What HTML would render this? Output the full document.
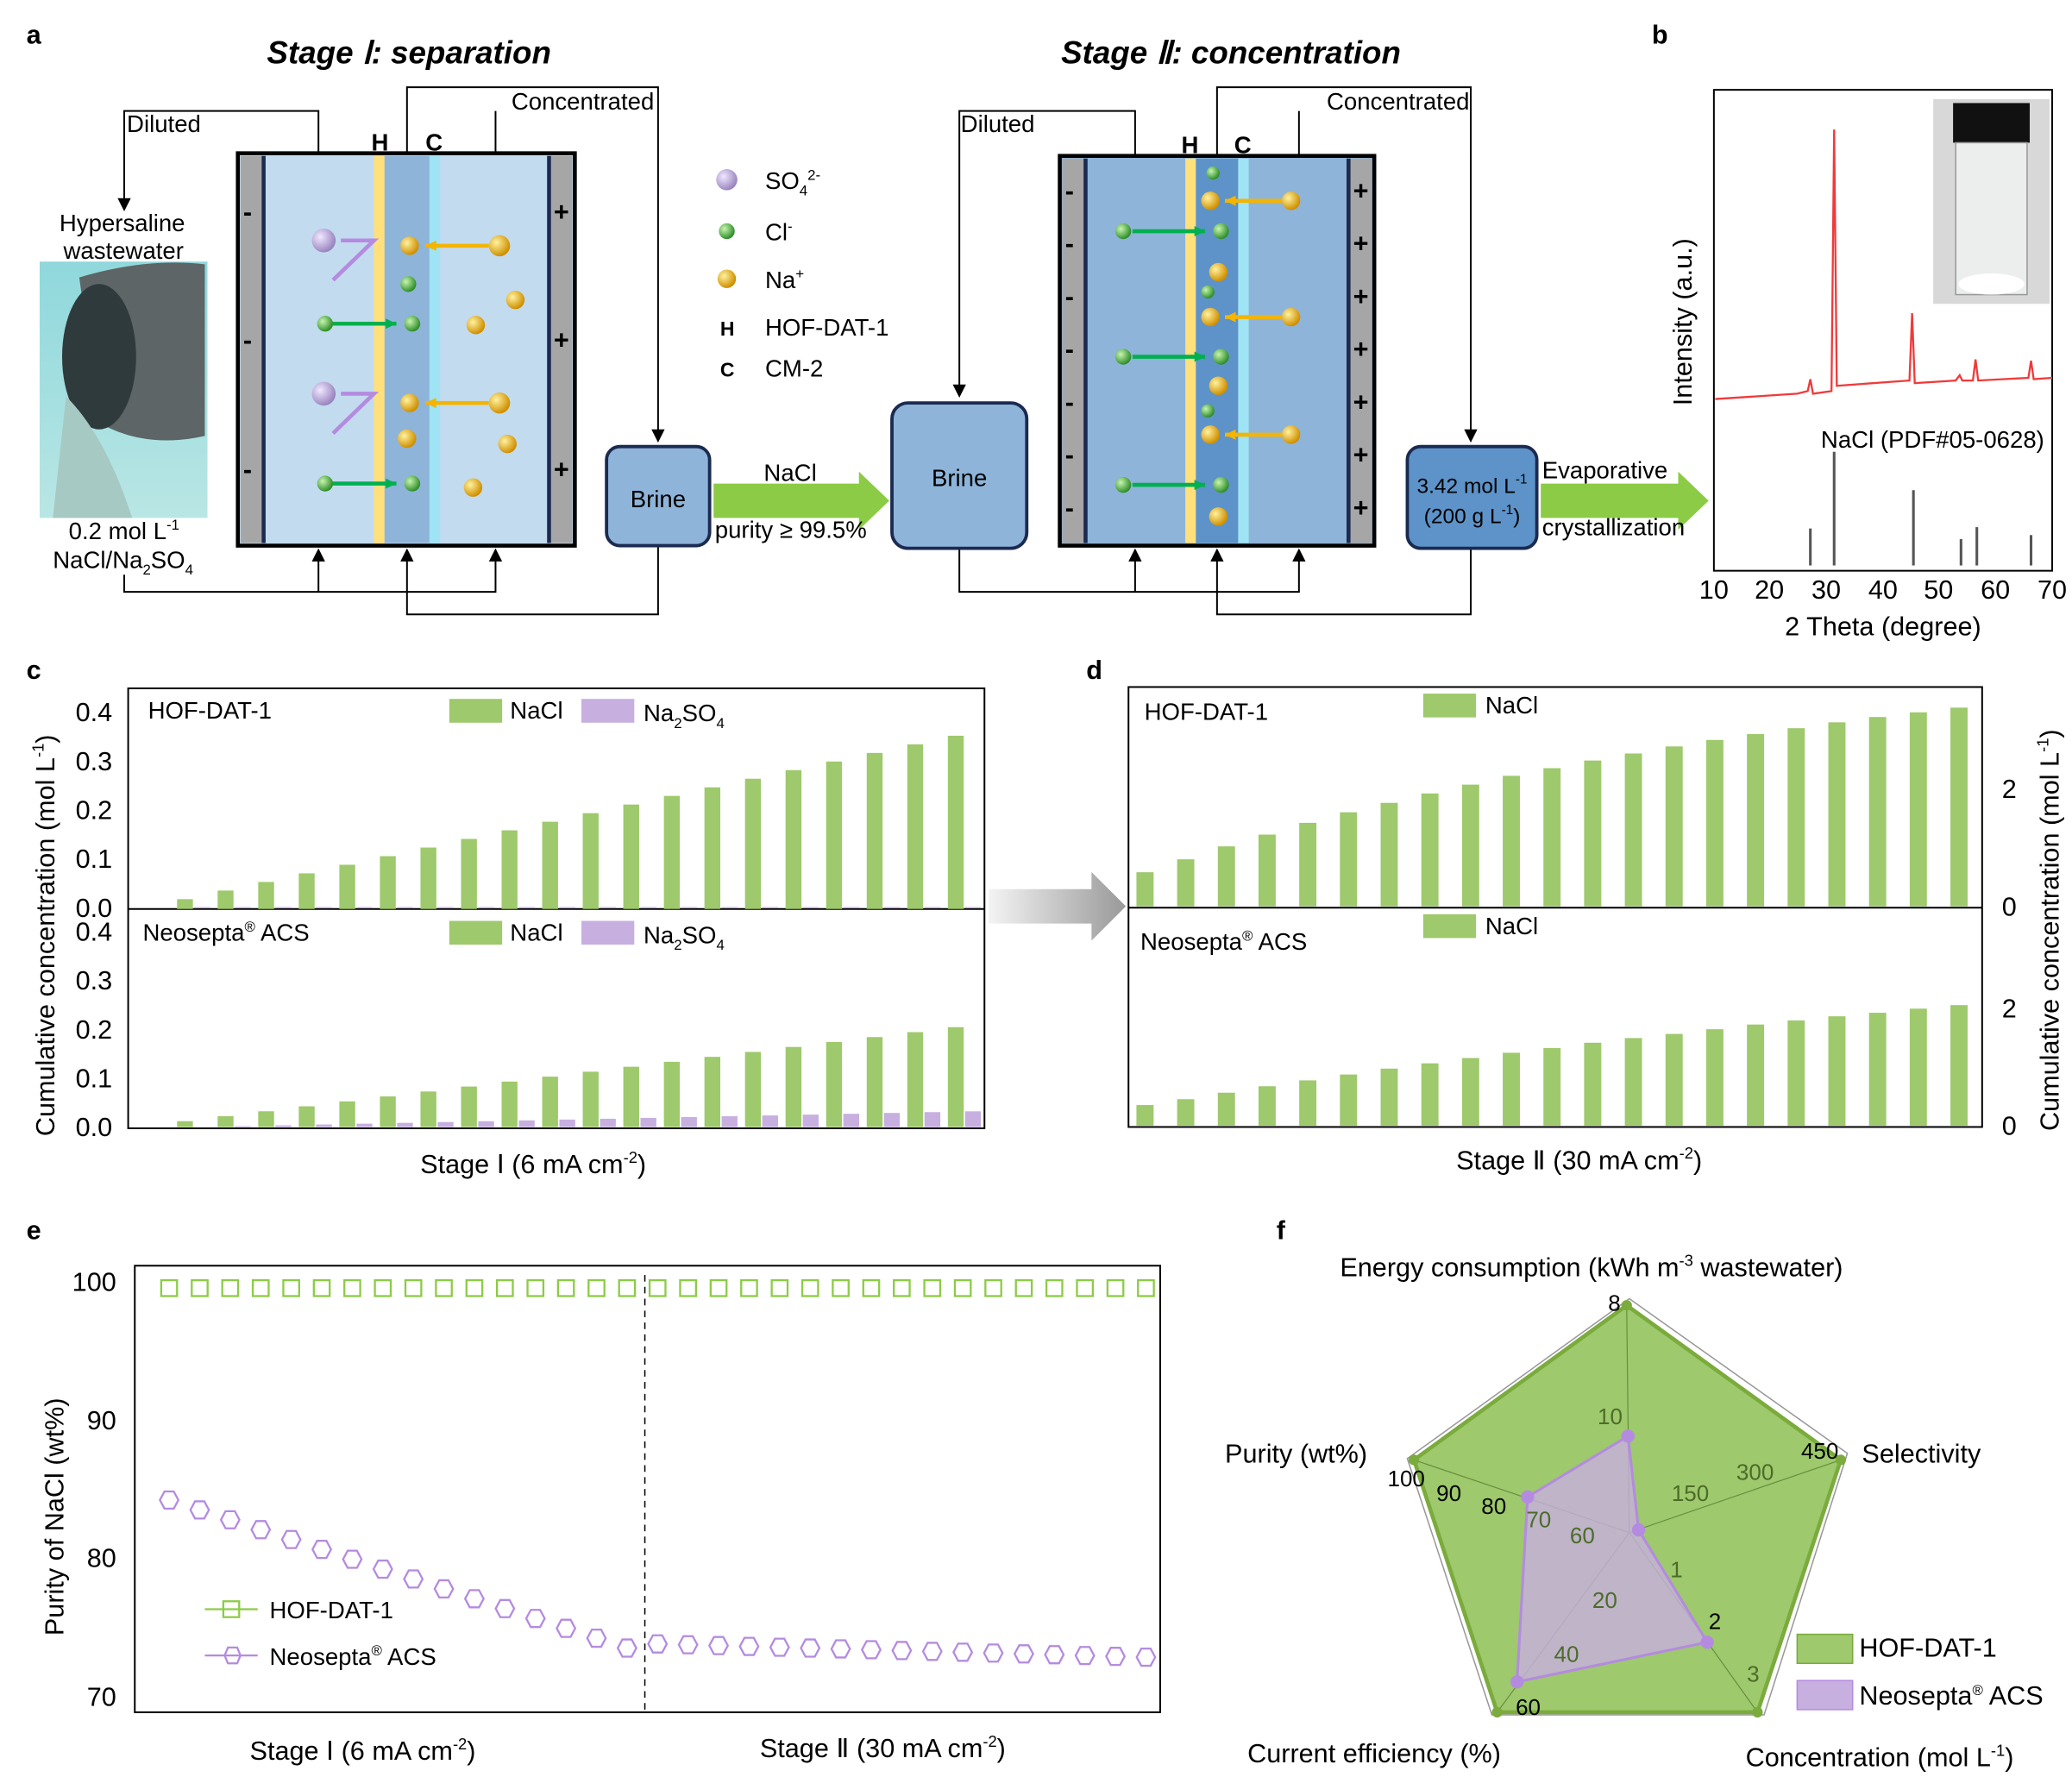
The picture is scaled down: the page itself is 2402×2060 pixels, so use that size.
<!DOCTYPE html>
<html><head><meta charset="utf-8"><style>
html,body{margin:0;padding:0;background:#fff}
svg{display:block}
text{font-family:"Liberation Sans",Arial,sans-serif;fill:#000}
</style></head><body>
<svg id="s" width="2402" height="2060" viewBox="0 0 1568 1345" preserveAspectRatio="none" xmlns="http://www.w3.org/2000/svg">
<defs>
<radialGradient id="gp" cx="35%" cy="35%" r="65%"><stop offset="0" stop-color="#f0e8ff"/><stop offset="1" stop-color="#9a86c0"/></radialGradient>
<radialGradient id="gg" cx="35%" cy="35%" r="65%"><stop offset="0" stop-color="#c8f5b0"/><stop offset="1" stop-color="#2f8f2a"/></radialGradient>
<radialGradient id="gy" cx="35%" cy="35%" r="65%"><stop offset="0" stop-color="#fff2a0"/><stop offset="1" stop-color="#d09000"/></radialGradient>
<linearGradient id="ga" x1="0" x2="1"><stop offset="0" stop-color="#f4f4f4"/><stop offset="1" stop-color="#999"/></linearGradient>
<linearGradient id="water" x1="0" y1="0" x2="0" y2="1"><stop offset="0" stop-color="#8fd8dc"/><stop offset="1" stop-color="#b9e6e4"/></linearGradient>
</defs>
<g font-size="18">
<text x="20" y="33" font-size="20" font-weight="bold">a</text>
<text x="1250" y="33" font-size="20" font-weight="bold">b</text>
<text x="20" y="514" font-size="20" font-weight="bold">c</text>
<text x="822" y="514" font-size="20" font-weight="bold">d</text>
<text x="20" y="938" font-size="20" font-weight="bold">e</text>
<text x="966" y="938" font-size="20" font-weight="bold">f</text>
<text x="202" y="48" font-size="24" font-weight="bold" font-style="italic">Stage  Ⅰ: separation</text>
<text x="803" y="48" font-size="24" font-weight="bold" font-style="italic">Stage  Ⅱ: concentration</text>

<g fill="none" stroke="#000" stroke-width="1.3">
<polyline points="241,116 241,84 94,84 94,155"/>
<polyline points="308,116 308,66 498,66 498,330"/>
<line x1="375" y1="116" x2="375" y2="84"/>
<polyline points="94,435 94,448 375,448 375,420"/>
<line x1="241" y1="448" x2="241" y2="420"/>
<polyline points="498,413 498,465 308,465 308,420"/>
<polyline points="859,118 859,84 726,84 726,295"/>
<polyline points="921,118 921,66 1113,66 1113,330"/>
<line x1="983" y1="118" x2="983" y2="84"/>
<polyline points="726,415 726,448 983,448 983,420"/>
<line x1="859" y1="448" x2="859" y2="420"/>
<polyline points="1113,415 1113,465 921,465 921,420"/>
</g>
<g fill="#000">
<polygon points="89,150 99,150 94,160"/><polygon points="493,325 503,325 498,335"/>
<polygon points="236,425 246,425 241,415"/><polygon points="303,425 313,425 308,415"/><polygon points="370,425 380,425 375,415"/>
<polygon points="721,291 731,291 726,301"/><polygon points="1108,325 1118,325 1113,335"/>
<polygon points="854,425 864,425 859,415"/><polygon points="916,425 926,425 921,415"/><polygon points="978,425 988,425 983,415"/>
</g>
<text x="96" y="100">Diluted</text><text x="387" y="83">Concentrated</text>
<text x="727" y="100">Diluted</text><text x="1004" y="83">Concentrated</text>
<text x="45" y="175">Hypersaline</text><text x="48" y="196">wastewater</text>
<text x="52" y="408">0.2 mol L<tspan font-size="11" dy="-7">-1</tspan></text>
<text x="40" y="430">NaCl/Na<tspan font-size="11" dy="5">2</tspan><tspan dy="-5">SO</tspan><tspan font-size="11" dy="5">4</tspan></text>
<rect x="30" y="198" width="127" height="194" fill="url(#water)"/>
<path d="M60,210 Q110,195 155,200 L155,330 Q110,340 75,320 Z" fill="#5d6566"/>
<ellipse cx="75" cy="270" rx="28" ry="55" fill="#2f3a3c"/>
<path d="M50,300 Q80,330 100,392 L40,392 Z" fill="#a7c9c3"/>

<rect x="180" y="116" width="255" height="297" fill="#c3dbef" stroke="#000" stroke-width="3"/>
<rect x="182" y="118" width="16" height="293" fill="#a6a6a6"/><rect x="198" y="118" width="3" height="293" fill="#1b2a50"/>
<rect x="417" y="118" width="16" height="293" fill="#a6a6a6"/><rect x="414" y="118" width="3" height="293" fill="#1b2a50"/>
<rect x="283" y="118" width="8" height="293" fill="#ffe07a"/><rect x="291" y="118" width="34" height="293" fill="#8fb4d9"/><rect x="325" y="118" width="8" height="293" fill="#9fe4f4"/>
<text x="281" y="114" font-weight="bold">H</text><text x="322" y="114" font-weight="bold">C</text>
<g font-size="20" font-weight="bold"><text x="184" y="167">-</text><text x="184" y="264">-</text><text x="184" y="362">-</text>
<text x="419" y="167">+</text><text x="419" y="264">+</text><text x="419" y="362">+</text></g>

<rect x="802" y="118" width="238" height="295" fill="#8fb4d9" stroke="#000" stroke-width="3"/>
<rect x="804" y="120" width="16" height="291" fill="#a6a6a6"/><rect x="820" y="120" width="3" height="291" fill="#1b2a50"/>
<rect x="1022" y="120" width="16" height="291" fill="#a6a6a6"/><rect x="1019" y="120" width="3" height="291" fill="#1b2a50"/>
<rect x="897" y="120" width="8" height="291" fill="#ffe07a"/><rect x="905" y="120" width="32" height="291" fill="#5d93c8"/><rect x="937" y="120" width="8" height="291" fill="#9fe4f4"/>
<text x="894" y="116" font-weight="bold">H</text><text x="934" y="116" font-weight="bold">C</text>
<g font-size="20" font-weight="bold" id="pm2"></g>

<g id="ions"></g>

<circle cx="550" cy="136" r="8" fill="url(#gp)"/><text x="579" y="143">SO<tspan font-size="11" dy="5">4</tspan><tspan font-size="11" dy="-12">2-</tspan></text>
<circle cx="550" cy="175" r="6" fill="url(#gg)"/><text x="579" y="182">Cl<tspan font-size="11" dy="-7">-</tspan></text>
<circle cx="550" cy="211" r="7" fill="url(#gy)"/><text x="579" y="218">Na<tspan font-size="11" dy="-7">+</tspan></text>
<text x="545" y="254" font-weight="bold" font-size="15">H</text><text x="579" y="254">HOF-DAT-1</text>
<text x="545" y="285" font-weight="bold" font-size="15">C</text><text x="579" y="285">CM-2</text>

<rect x="459" y="338" width="78" height="75" rx="10" fill="#8fb4d9" stroke="#1b2a50" stroke-width="2.5"/>
<text x="498" y="384" text-anchor="middle">Brine</text>
<rect x="675" y="305" width="102" height="110" rx="12" fill="#8fb4d9" stroke="#1b2a50" stroke-width="2.5"/>
<text x="726" y="368" text-anchor="middle">Brine</text>
<rect x="1065" y="338" width="98" height="77" rx="10" fill="#5d93c8" stroke="#1b2a50" stroke-width="2.5"/>
<text x="1114" y="373" text-anchor="middle" font-size="16">3.42 mol L<tspan font-size="10" dy="-7">-1</tspan></text>
<text x="1114" y="396" text-anchor="middle" font-size="16">(200 g L<tspan font-size="10" dy="-7">-1</tspan><tspan dy="7">)</tspan></text>
<polygon points="540,366 650,366 650,357 673,379 650,401 650,392 540,392" fill="#8ccb45"/>
<polygon points="1166,366 1270,366 1270,357 1293,379 1270,401 1270,392 1166,392" fill="#8ccb45"/>
<text x="578" y="364">NaCl</text><text x="541" y="407">purity ≥ 99.5%</text>
<text x="1167" y="362">Evaporative</text><text x="1167" y="405">crystallization</text>

<rect x="1297" y="68" width="256" height="364" fill="none" stroke="#000" stroke-width="1.3"/>
<polyline fill="none" stroke="#f03a3a" stroke-width="1.5" points="1298,302 1360,298 1368,296 1370,287 1372,298 1386,296 1388,98 1390,292 1445,288 1447,237 1449,290 1480,288 1483,284 1485,288 1493,288 1495,272 1497,288 1535,286 1537,273 1539,287 1553,286"/>
<g stroke="#555" stroke-width="2"><line x1="1370" y1="428" x2="1370" y2="400"/><line x1="1388" y1="428" x2="1388" y2="342"/><line x1="1448" y1="428" x2="1448" y2="371"/><line x1="1484" y1="428" x2="1484" y2="408"/><line x1="1496" y1="428" x2="1496" y2="399"/><line x1="1537" y1="428" x2="1537" y2="405"/></g>
<rect x="1463" y="75" width="88" height="155" fill="#d8d8d8"/><rect x="1478" y="78" width="58" height="30" fill="#111"/><rect x="1480" y="108" width="54" height="115" fill="#eceeee" stroke="#999"/><ellipse cx="1507" cy="215" rx="25" ry="8" fill="#fff"/>
<text x="1378" y="339">NaCl (PDF#05-0628)</text>
<text transform="translate(1280,307) rotate(-90)" font-size="20">Intensity (a.u.)</text>
<g font-size="20" text-anchor="middle"><text x="1297" y="453">10</text><text x="1339" y="453">20</text><text x="1382" y="453">30</text><text x="1425" y="453">40</text><text x="1467" y="453">50</text><text x="1510" y="453">60</text><text x="1553" y="453">70</text>
<text x="1425" y="481">2 Theta (degree)</text></g>

<rect x="97" y="521" width="648" height="333" fill="none" stroke="#000" stroke-width="1.3"/>
<line x1="97" y1="688" x2="745" y2="688" stroke="#000" stroke-width="1.3"/>
<g id="cbars"></g>
<g font-size="20" text-anchor="end">
<text x="85" y="546">0.4</text><text x="85" y="583">0.3</text><text x="85" y="620">0.2</text><text x="85" y="657">0.1</text><text x="85" y="694">0.0</text>
<text x="85" y="712">0.4</text><text x="85" y="749">0.3</text><text x="85" y="786">0.2</text><text x="85" y="823">0.1</text><text x="85" y="860">0.0</text></g>
<text x="112" y="544">HOF-DAT-1</text><text x="108" y="712">Neosepta<tspan font-size="11" dy="-7">®</tspan><tspan dy="7"> ACS</tspan></text>
<rect x="340" y="529" width="40" height="18" fill="#9ec96c"/><text x="386" y="544">NaCl</text>
<rect x="440" y="529" width="40" height="18" fill="#c7afe0"/><text x="487" y="546">Na<tspan font-size="11" dy="5">2</tspan><tspan dy="-5">SO</tspan><tspan font-size="11" dy="5">4</tspan></text>
<rect x="340" y="697" width="40" height="18" fill="#9ec96c"/><text x="386" y="712">NaCl</text>
<rect x="440" y="697" width="40" height="18" fill="#c7afe0"/><text x="487" y="714">Na<tspan font-size="11" dy="5">2</tspan><tspan dy="-5">SO</tspan><tspan font-size="11" dy="5">4</tspan></text>
<text transform="translate(41,860) rotate(-90)" font-size="20">Cumulative concentration (mol L<tspan font-size="12" dy="-8">-1</tspan><tspan dy="8">)</tspan></text>
<text x="318" y="888" font-size="20">Stage Ⅰ (6 mA cm<tspan font-size="12" dy="-8">-2</tspan><tspan dy="8">)</tspan></text>
<polygon points="748,673 826,673 826,660 852,686 826,712 826,699 748,699" fill="url(#ga)"/>

<rect x="854" y="520" width="646" height="333" fill="none" stroke="#000" stroke-width="1.3"/>
<line x1="854" y1="687" x2="1500" y2="687" stroke="#000" stroke-width="1.3"/>
<g id="dbars"></g>
<g font-size="20"><text x="1515" y="604">2</text><text x="1515" y="693">0</text><text x="1515" y="770">2</text><text x="1515" y="859">0</text></g>
<text x="866" y="545">HOF-DAT-1</text><text x="863" y="719">Neosepta<tspan font-size="11" dy="-7">®</tspan><tspan dy="7"> ACS</tspan></text>
<rect x="1077" y="525" width="40" height="18" fill="#9ec96c"/><text x="1124" y="540">NaCl</text>
<rect x="1077" y="692" width="40" height="18" fill="#9ec96c"/><text x="1124" y="707">NaCl</text>
<text transform="translate(1558,856) rotate(-90)" font-size="20">Cumulative concentration (mol L<tspan font-size="12" dy="-8">-1</tspan><tspan dy="8">)</tspan></text>
<text x="1102" y="885" font-size="20">Stage Ⅱ (30 mA cm<tspan font-size="12" dy="-8">-2</tspan><tspan dy="8">)</tspan></text>

<rect x="102" y="958" width="776" height="338" fill="none" stroke="#000" stroke-width="1.3"/>
<line x1="488" y1="965" x2="488" y2="1296" stroke="#000" stroke-dasharray="5,4"/>
<g id="emark"></g>
<g font-size="20" text-anchor="end"><text x="88" y="977">100</text><text x="88" y="1082">90</text><text x="88" y="1186">80</text><text x="88" y="1291">70</text></g>
<text transform="translate(48,1238) rotate(-90)" font-size="20">Purity of NaCl (wt%)</text>
<line x1="155" y1="1218" x2="195" y2="1218" stroke="#8ccb45" stroke-width="1.5"/><rect x="169" y="1212" width="12" height="12" fill="none" stroke="#8ccb45" stroke-width="1.5"/>
<text x="204" y="1225">HOF-DAT-1</text>
<line x1="155" y1="1253" x2="195" y2="1253" stroke="#b48be0" stroke-width="1.5"/><polygon points="170,1253 172.5,1247 179.5,1247 182,1253 179.5,1259 172.5,1259" fill="none" stroke="#b48be0" stroke-width="1.5"/>
<text x="204" y="1260">Neosepta<tspan font-size="11" dy="-7">®</tspan><tspan dy="7"> ACS</tspan></text>
<text x="189" y="1332" font-size="20">Stage Ⅰ (6 mA cm<tspan font-size="12" dy="-8">-2</tspan><tspan dy="8">)</tspan></text>
<text x="575" y="1330" font-size="20">Stage Ⅱ (30 mA cm<tspan font-size="12" dy="-8">-2</tspan><tspan dy="8">)</tspan></text>

<polygon points="1233,983 1398,1100 1335,1298 1129,1298 1065,1104" fill="none" stroke="#999"/>
<polygon points="1231,988 1393,1105 1330,1296 1133,1296 1070,1105" fill="#9ec96c" stroke="#7aab3c" stroke-width="3"/>
<g stroke="#6a8f40" stroke-width="0.8"><line x1="1233" y1="1160" x2="1231" y2="988"/><line x1="1233" y1="1160" x2="1393" y2="1105"/><line x1="1233" y1="1160" x2="1330" y2="1296"/><line x1="1233" y1="1160" x2="1133" y2="1296"/><line x1="1233" y1="1160" x2="1070" y2="1105"/></g>
<polygon points="1232,1087 1240,1158 1292,1243 1148,1273 1156,1133" fill="#c7afe0" fill-opacity="0.8" stroke="#b48be0" stroke-width="2"/>
<g fill="#b48be0"><circle cx="1232" cy="1087" r="5"/><circle cx="1240" cy="1158" r="5"/><circle cx="1292" cy="1243" r="5"/><circle cx="1148" cy="1273" r="5"/><circle cx="1156" cy="1133" r="5"/></g>
<g fill="#7aab3c"><circle cx="1231" cy="988" r="4"/><circle cx="1393" cy="1105" r="4"/><circle cx="1330" cy="1296" r="4"/><circle cx="1133" cy="1296" r="4"/><circle cx="1070" cy="1105" r="4"/></g>
<g font-size="17"><text x="1217" y="992" style="fill:#000">8</text><text x="1209" y="1078" style="fill:#4d6b2a">10</text><text x="1265" y="1136" style="fill:#4d6b2a">150</text><text x="1314" y="1120" style="fill:#4d6b2a">300</text><text x="1363" y="1104" style="fill:#000">450</text>
<text x="1264" y="1194" style="fill:#4d6b2a">1</text><text x="1293" y="1233" style="fill:#000">2</text><text x="1322" y="1273" style="fill:#4d6b2a">3</text>
<text x="1205" y="1217" style="fill:#4d6b2a">20</text><text x="1176" y="1258" style="fill:#4d6b2a">40</text><text x="1147" y="1298" style="fill:#000">60</text>
<text x="1188" y="1168" style="fill:#4d6b2a">60</text><text x="1155" y="1156" style="fill:#4d6b2a">70</text><text x="1121" y="1146" style="fill:#000">80</text><text x="1087" y="1136" style="fill:#000">90</text><text x="1050" y="1125" style="fill:#000">100</text></g>
<g font-size="20"><text x="1014" y="966">Energy consumption (kWh m<tspan font-size="12" dy="-8">-3</tspan><tspan dy="8"> wastewater)</tspan></text>
<text x="927" y="1107">Purity (wt%)</text><text x="1409" y="1107">Selectivity</text>
<text x="944" y="1334">Current efficiency (%)</text><text x="1321" y="1337">Concentration (mol L<tspan font-size="12" dy="-8">-1</tspan><tspan dy="8">)</tspan></text>
<text x="1407" y="1254">HOF-DAT-1</text><text x="1407" y="1290">Neosepta<tspan font-size="11" dy="-7">®</tspan><tspan dy="7"> ACS</tspan></text></g>
<rect x="1360" y="1237" width="42" height="22" fill="#9ec96c" stroke="#7aab3c"/><rect x="1360" y="1272" width="42" height="22" fill="#c7afe0" stroke="#b48be0"/>
</g>
<script>
var NS="http://www.w3.org/2000/svg";
function el(p,t,a){var e=document.createElementNS(NS,t);for(var k in a)e.setAttribute(k,a[k]);p.appendChild(e);return e;}
var ions=document.getElementById('ions');
function ball(x,y,r,g){el(ions,'circle',{cx:x,cy:y,r:r,fill:'url(#'+g+')'});}
function arr(x1,y1,x2,y2,c){el(ions,'line',{x1:x1,y1:y1,x2:x2,y2:y2,stroke:c,'stroke-width':3});var a=Math.atan2(y2-y1,x2-x1),s=9;el(ions,'polygon',{points:x2+','+y2+' '+(x2-s*Math.cos(a-0.45))+','+(y2-s*Math.sin(a-0.45))+' '+(x2-s*Math.cos(a+0.45))+','+(y2-s*Math.sin(a+0.45)),fill:c});}
[182,298].forEach(function(y){ball(245,y,9,'gp');el(ions,'polyline',{points:'258,'+y+' 283,'+y+' 252,'+(y+30),fill:'none',stroke:'#b48be0','stroke-width':3});});
[245,366].forEach(function(y){arr(251,y,300,y,'#00b050');ball(246,y,6,'gg');ball(312,y,6,'gg');});
ball(309,215,6,'gg');
[186,305].forEach(function(y){arr(370,y,322,y,'#f5b400');ball(378,y,8,'gy');ball(310,y,7,'gy');});
ball(390,227,7,'gy');ball(360,246,7,'gy');ball(308,332,7,'gy');ball(384,336,7,'gy');ball(358,369,7,'gy');
[175,270,367].forEach(function(y){arr(857,y,912,y,'#00b050');ball(850,y,6,'gg');ball(924,y,6,'gg');});
[152,240,329].forEach(function(y){arr(970,y,927,y,'#f5b400');ball(977,y,7,'gy');ball(916,y,7,'gy');});
ball(918,131,5,'gg');ball(914,221,5,'gg');ball(914,311,5,'gg');ball(922,206,7,'gy');ball(922,292,7,'gy');ball(922,391,7,'gy');
var pm=document.getElementById('pm2');
for(var i=0;i<7;i++){var y=151+i*40;var t=el(pm,'text',{x:806,y:y});t.textContent='-';var t2=el(pm,'text',{x:1024,y:y});t2.textContent='+';}
var cb=document.getElementById('cbars');
for(i=0;i<20;i++){var x=134+i*30.7;var v=0.02+i*0.0175;var h=v*372;el(cb,'rect',{x:x,y:688-h,width:12,height:h,fill:'#9ec96c'});
var v2=0.012+i*0.0102;h=v2*367;el(cb,'rect',{x:x,y:853-h,width:12,height:h,fill:'#9ec96c'});
var v3=i*0.0017;h=v3*367;el(cb,'rect',{x:x+13,y:853-h,width:12,height:h,fill:'#c7afe0'});
el(cb,'rect',{x:x+13,y:686.5,width:12,height:1,fill:'#c7afe0'});}
var db=document.getElementById('dbars');
var tv=[0.58,0.8,1.02,1.22,1.42,1.6,1.76,1.92,2.07,2.22,2.35,2.48,2.6,2.72,2.83,2.93,3.03,3.13,3.22,3.3,3.38];
var bv=[0.35,0.45,0.56,0.67,0.77,0.87,0.97,1.06,1.15,1.24,1.32,1.41,1.49,1.56,1.64,1.72,1.79,1.86,1.92,1.99,2.05];
for(i=0;i<21;i++){var x=860+i*30.8;var h=tv[i]*44.5;el(db,'rect',{x:x,y:686-h,width:13,height:h,fill:'#9ec96c'});h=bv[i]*44.5;el(db,'rect',{x:x,y:852-h,width:13,height:h,fill:'#9ec96c'});}
var em=document.getElementById('emark');
function yv(v){return 971+(100-v)*10.47;}
for(i=0;i<33;i++){var x=128+i*23.1;el(em,'rect',{x:x-6,y:969,width:12,height:12,fill:'none',stroke:'#8ccb45','stroke-width':1.5});
var v=i<=15?84.3-(84.3-73.6)*(i/15):73.9-(i-16)*0.06;var y=yv(v);
el(em,'polygon',{points:(x-7)+','+y+' '+(x-3.5)+','+(y-6.5)+' '+(x+3.5)+','+(y-6.5)+' '+(x+7)+','+y+' '+(x+3.5)+','+(y+6.5)+' '+(x-3.5)+','+(y+6.5),fill:'none',stroke:'#b48be0','stroke-width':1.5});}
</script>
</svg>
</body></html>
